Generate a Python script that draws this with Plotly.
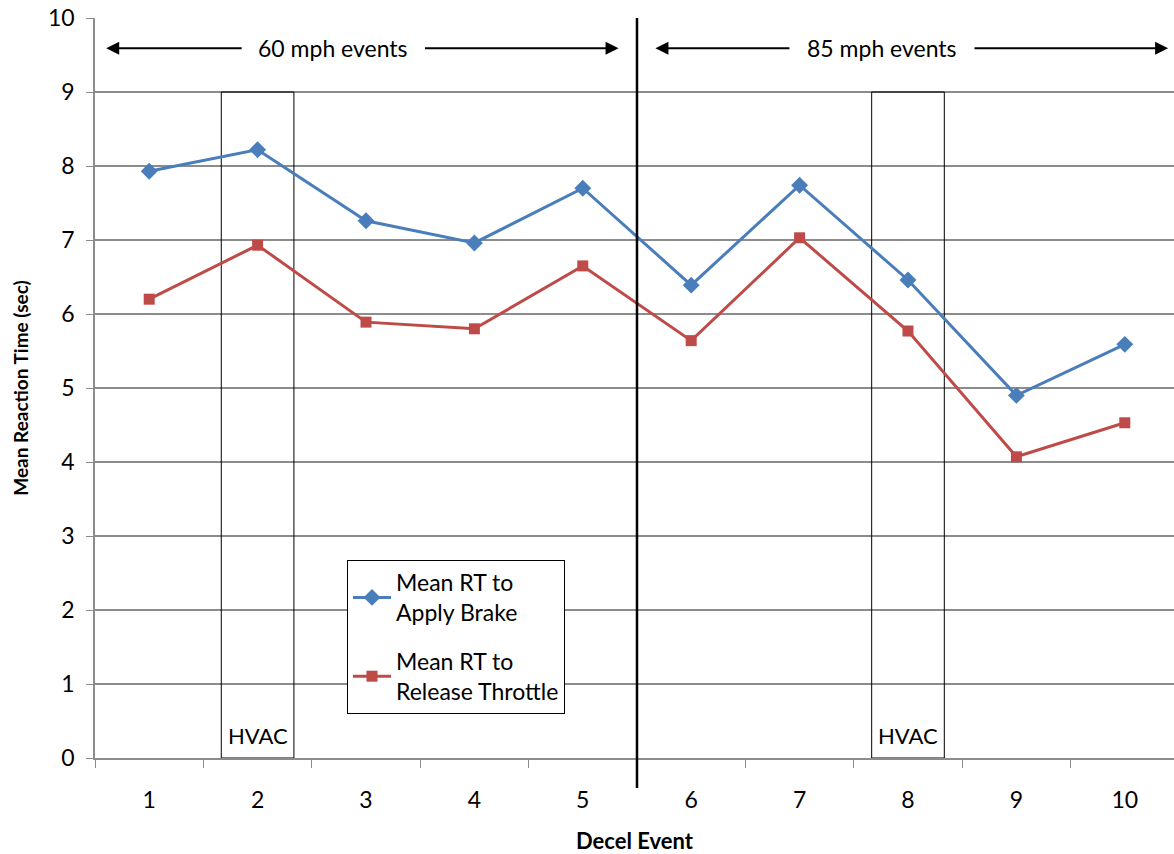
import plotly.graph_objects as go

events = [1, 2, 3, 4, 5, 6, 7, 8, 9, 10]
tick_labels = ["1", "2", "3", "4", "5", "6", "7", "8", "9", "10"]
brake_rt = [7.93, 8.22, 7.26, 6.96, 7.70, 6.39, 7.74, 6.46, 4.90, 5.59]
throttle_rt = [6.20, 6.93, 5.89, 5.80, 6.65, 5.64, 7.03, 5.77, 4.07, 4.53]
hvac_events = [2, 8]
y_ticks = [0, 1, 2, 3, 4, 5, 6, 7, 8, 9, 10]

FONT = "Lato"
FS = 23
BLUE = "#4A7EBB"
RED = "#BE4B48"
GRID = "#8C8C8C"

X0, X1 = 0.5, 10.454

fig = go.Figure()
fig.add_trace(go.Scatter(
    x=events, y=brake_rt, mode="lines+markers",
    name="Mean RT to<br>Apply Brake", legendgroup="brake",
    line=dict(color=BLUE, width=3),
    marker=dict(symbol="diamond", size=13, color=BLUE),
))
fig.add_trace(go.Scatter(
    x=events, y=throttle_rt, mode="lines+markers",
    name="Mean RT to<br>Release Throttle", legendgroup="throttle",
    line=dict(color=RED, width=3),
    marker=dict(symbol="square", size=11, color=RED),
))

shapes = []
for h in hvac_events:
    shapes.append(dict(type="rect", xref="x", yref="y",
                       x0=h - 0.335, x1=h + 0.335, y0=0, y1=9,
                       line=dict(color="black", width=1), fillcolor="rgba(0,0,0,0)",
                       layer="between"))
# divider between 60 and 85 mph events
xp = (5.5 - X0) / (X1 - X0)
shapes.append(dict(type="line", xref="paper", yref="paper",
                   x0=xp, x1=xp, y0=-0.0405, y1=1,
                   line=dict(color="black", width=2.5)))

annotations = []
for h in hvac_events:
    annotations.append(dict(x=h, y=0.1, xref="x", yref="y", text="HVAC",
                            showarrow=False, yanchor="bottom",
                            font=dict(family=FONT, size=22, color="black")))

arrow_y = 9.59
def arrow(head, tail):
    return dict(x=head, y=arrow_y, ax=tail, ay=arrow_y, xref="x", yref="y",
                axref="x", ayref="y", text="", showarrow=True,
                arrowhead=2, arrowsize=1.3, arrowwidth=2, arrowcolor="black")

annotations += [
    arrow(0.603, 1.867), arrow(5.33, 3.53),
    arrow(5.67, 6.92), arrow(10.40, 8.60),
    dict(x=2.70, y=arrow_y, xref="x", yref="y", text="60 mph events", showarrow=False,
         font=dict(family=FONT, size=FS, color="black")),
    dict(x=7.76, y=arrow_y, xref="x", yref="y", text="85 mph events", showarrow=False,
         font=dict(family=FONT, size=FS, color="black")),
]

fig.update_layout(
    width=1174, height=854,
    margin=dict(l=95, r=0, t=18, b=96, autoexpand=False),
    paper_bgcolor="white", plot_bgcolor="white",
    font=dict(family=FONT, size=FS, color="black"),
    shapes=shapes, annotations=annotations,
    showlegend=True,
    legend=dict(x=(347 - 95) / 1079, y=(758 - 560) / 740, xanchor="left", yanchor="top",
                bordercolor="black", borderwidth=1, bgcolor="white",
                font=dict(family=FONT, size=FS, color="black"),
                itemwidth=38, tracegroupgap=16),
)
fig.update_xaxes(
    range=[X0, X1], tickmode="array", tickvals=events, ticktext=tick_labels,
    ticks="", showgrid=False, zeroline=False, automargin=False,
    showline=True, linecolor=GRID, linewidth=2,
    ticklabelstandoff=20,
    minor=dict(tick0=0.5, dtick=1, ticks="outside", ticklen=8, tickcolor=GRID, tickwidth=1, showgrid=False),
    title=dict(text="<b>Decel Event</b>", font=dict(family=FONT, size=22), standoff=23),
    tickfont=dict(family=FONT, size=FS),
)
fig.update_yaxes(
    range=[0, 10], tickmode="array", tickvals=y_ticks,
    ticks="outside", ticklen=7, tickcolor=GRID, automargin=False,
    showgrid=True, gridcolor=GRID, gridwidth=1.5, zeroline=False,
    showline=True, linecolor=GRID, linewidth=1.5,
    ticklabelstandoff=7, ticklabeloverflow="allow",
    title=dict(text="<b>Mean Reaction Time (sec)</b>", font=dict(family=FONT, size=19), standoff=14),
    tickfont=dict(family=FONT, size=FS),
)

# remove the page's default body margin so the figure fills the window exactly
fig.write_html("out.html", config={"displayModeBar": False},
               post_script="document.body.style.margin='0';")
